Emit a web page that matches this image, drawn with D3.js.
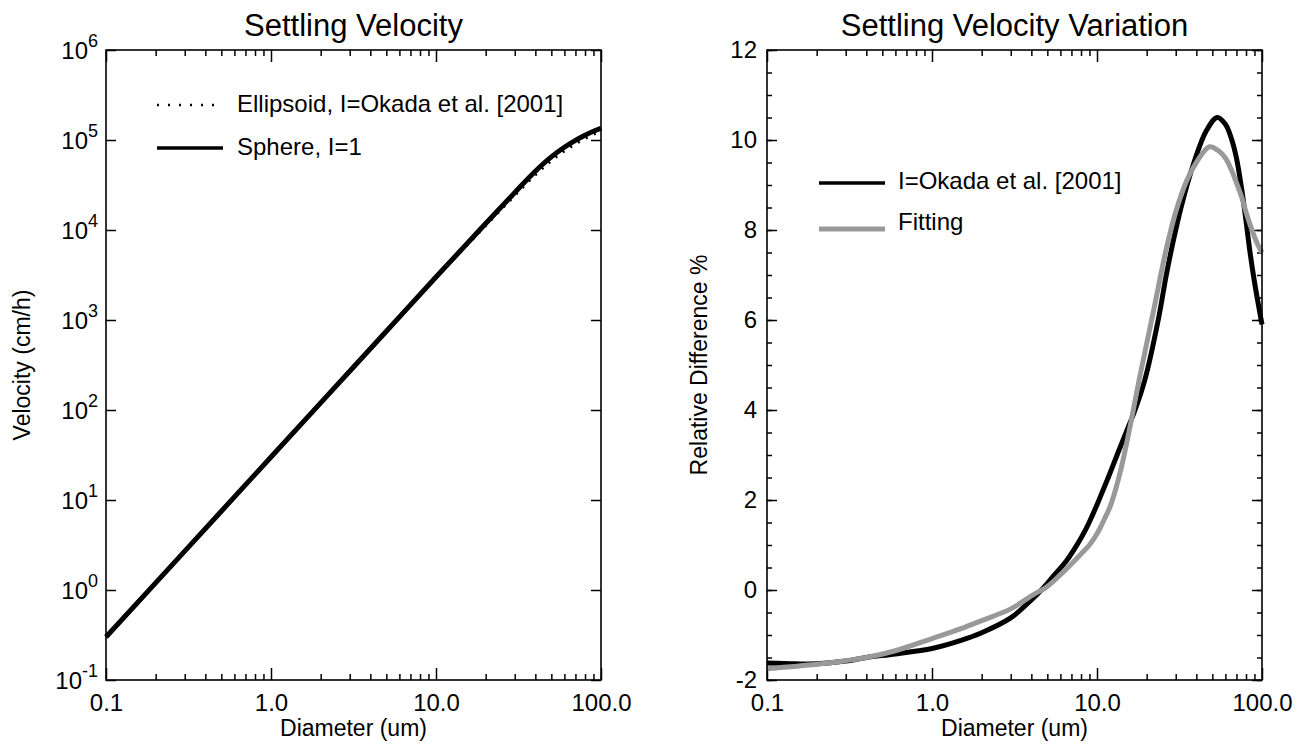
<!DOCTYPE html>
<html>
<head>
<meta charset="utf-8">
<script src="https://cdn.jsdelivr.net/npm/d3@7"></script>
<style>
  html, body { margin: 0; padding: 0; background: #fff; }
  svg text { font-family: "Liberation Sans", Arial, Helvetica, sans-serif; fill: #000; }
</style>
</head>
<body>
<svg id="chart" width="1307" height="744"></svg>
<script>
// left panel: settling velocity (cm/h) vs diameter (um)
var velDiam = [0.1, 0.2, 0.5, 1, 2, 5, 10, 20, 30, 40, 50, 60, 70, 80, 90, 100];
var sphereVel = [0.3, 1.2, 7.5, 30, 120, 750, 3000, 11800, 26000, 45000, 65000, 83000, 99000, 113000, 125000, 135000];
var ellipsoidVel = [0.305, 1.22, 7.6, 30.4, 121, 748, 2950, 11200, 24200, 41000, 59000, 75500, 90500, 104000, 116000, 127000];

// right panel: relative difference %
var okadaDiam = [0.1, 0.15, 0.2, 0.3, 0.4, 0.6, 1, 1.5, 2, 3, 4, 4.6, 5.5, 6.5, 7.5, 8.5, 9.3, 10.2, 11.7, 13.4, 15.2, 17, 19.5, 23.5, 26.3, 28.5, 32.3, 38.7, 45.9, 53.5, 60, 65, 70, 75, 80, 85, 90, 95, 100];
var okadaDiff = [-1.62, -1.64, -1.64, -1.58, -1.5, -1.42, -1.3, -1.12, -0.95, -0.62, -0.22, 0, 0.33, 0.64, 0.98, 1.33, 1.63, 1.97, 2.5, 3.05, 3.55, 4.0, 4.67, 6, 7, 7.63, 8.5, 9.5, 10.2, 10.5, 10.35, 10.05, 9.6, 8.95, 8.2, 7.45, 6.85, 6.35, 5.9];
var fitDiam = [0.1, 0.2, 0.3, 0.4, 0.6, 1, 1.5, 2, 3, 4, 5, 6, 7, 8, 9, 10, 11, 12, 13, 14, 15, 16, 18, 22, 26, 30, 35, 40, 48, 55, 60, 65, 70, 75, 80, 85, 90, 95, 100];
var fitDiff = [-1.75, -1.65, -1.57, -1.5, -1.35, -1.08, -0.86, -0.68, -0.42, -0.13, 0.08, 0.34, 0.58, 0.8, 1.0, 1.25, 1.55, 1.85, 2.25, 2.7, 3.2, 3.7, 4.67, 6.2, 7.5, 8.4, 9.1, 9.5, 9.85, 9.75, 9.6, 9.35, 9.05, 8.75, 8.4, 8.1, 7.85, 7.65, 7.5];

var xMajor = [0.1, 1, 10, 100];
var xMajorLabels = ['0.1', '1.0', '10.0', '100.0'];
var xMinor = [0.2, 0.3, 0.4, 0.5, 0.6, 0.7, 0.8, 0.9, 2, 3, 4, 5, 6, 7, 8, 9, 20, 30, 40, 50, 60, 70, 80, 90];
var velExponents = [-1, 0, 1, 2, 3, 4, 5, 6];
var diffMajor = [-2, 0, 2, 4, 6, 8, 10, 12];
var diffMinor = d3.range(-2, 12.01, 0.5);

(function () {
  'use strict';

  var svg = d3.select('#chart');
  var TOP = 50, H = 630, W = 495;
  var LEFT_A = 106, LEFT_B = 767;

  function xAxes(g, x) {
    // major + minor ticks, bottom and top, pointing inward
    g.append('g')
      .attr('transform', 'translate(0,' + H + ')')
      .call(d3.axisBottom(x).tickValues(xMajor).tickSize(-12).tickPadding(14)
        .tickFormat(function (d, i) { return xMajorLabels[i]; }));
    g.append('g')
      .attr('transform', 'translate(0,' + H + ')')
      .call(d3.axisBottom(x).tickValues(xMinor).tickSize(-6).tickFormat(''));
    g.append('g')
      .call(d3.axisTop(x).tickValues(xMajor).tickSize(-12).tickFormat(''));
    g.append('g')
      .call(d3.axisTop(x).tickValues(xMinor).tickSize(-6).tickFormat(''));
  }

  function tidy(g) {
    g.selectAll('.domain').remove();
    g.selectAll('.tick line').attr('stroke', '#000').attr('stroke-width', 1.5);
    g.selectAll('.tick text').attr('font-size', 24).attr('font-family', null);
  }

  function frame(g) {
    g.append('rect')
      .attr('width', W).attr('height', H)
      .attr('fill', 'none').attr('stroke', '#000').attr('stroke-width', 1.6);
  }

  function texts(g, title, ytitle, ytx) {
    g.append('text')
      .attr('x', W / 2).attr('y', -14)
      .attr('text-anchor', 'middle').attr('font-size', 31)
      .text(title);
    g.append('text')
      .attr('x', W / 2).attr('y', H + 56)
      .attr('text-anchor', 'middle').attr('font-size', 23)
      .text('Diameter (um)');
    g.append('text')
      .attr('transform', 'translate(' + ytx + ',' + (H / 2) + ') rotate(-90)')
      .attr('text-anchor', 'middle').attr('font-size', 23)
      .text(ytitle);
  }

  // ---------- left panel ----------
  var gA = svg.append('g').attr('transform', 'translate(' + LEFT_A + ',' + TOP + ')');
  var xA = d3.scaleLog().domain([0.1, 100]).range([0, W]);
  var yA = d3.scaleLog().domain([0.1, 1e6]).range([H, 0]);
  var decades = velExponents.map(function (e) { return Math.pow(10, e); });

  xAxes(gA, xA);
  gA.append('g').call(d3.axisLeft(yA).tickValues(decades).tickSize(-10).tickFormat(''));
  gA.append('g').attr('transform', 'translate(' + W + ',0)')
    .call(d3.axisRight(yA).tickValues(decades).tickSize(-10).tickFormat(''));
  tidy(gA);

  var ylab = gA.append('g').selectAll('text').data(velExponents).enter().append('text')
    .attr('x', -8)
    .attr('y', function (e) { return yA(Math.pow(10, e)) + 9; })
    .attr('text-anchor', 'end')
    .attr('font-size', 24);
  ylab.append('tspan').text('10');
  ylab.append('tspan').attr('dy', -12).attr('font-size', 18).text(function (e) { return String(e); });

  var lineA = d3.line()
    .x(function (d) { return xA(d[0]); })
    .y(function (d) { return yA(d[1]); })
    .curve(d3.curveMonotoneX);

  gA.append('path')
    .datum(velDiam.map(function (d, i) { return [d, ellipsoidVel[i]]; }))
    .attr('d', lineA).attr('fill', 'none').attr('stroke', '#000')
    .attr('stroke-width', 3).attr('stroke-dasharray', '2,7');
  gA.append('path')
    .datum(velDiam.map(function (d, i) { return [d, sphereVel[i]]; }))
    .attr('d', lineA).attr('fill', 'none').attr('stroke', '#000')
    .attr('stroke-width', 5);

  frame(gA);
  texts(gA, 'Settling Velocity', 'Velocity (cm/h)', -76);

  // legend left
  var legA = gA.append('g');
  legA.append('line').attr('x1', 51).attr('x2', 117).attr('y1', 55).attr('y2', 55)
    .attr('stroke', '#000').attr('stroke-width', 2.5).attr('stroke-dasharray', '2,9');
  legA.append('text').attr('x', 131).attr('y', 62).attr('font-size', 24)
    .text('Ellipsoid, I=Okada et al. [2001]');
  legA.append('line').attr('x1', 51).attr('x2', 117).attr('y1', 98).attr('y2', 98)
    .attr('stroke', '#000').attr('stroke-width', 3.5);
  legA.append('text').attr('x', 131).attr('y', 105).attr('font-size', 24)
    .text('Sphere, I=1');

  // ---------- right panel ----------
  var gB = svg.append('g').attr('transform', 'translate(' + LEFT_B + ',' + TOP + ')');
  var xB = d3.scaleLog().domain([0.1, 100]).range([0, W]);
  var yB = d3.scaleLinear().domain([-2, 12]).range([H, 0]);

  xAxes(gB, xB);
  gB.append('g')
    .call(d3.axisLeft(yB).tickValues(diffMajor).tickSize(-10).tickPadding(10)
      .tickFormat(function (d) { return String(d); }));
  gB.append('g')
    .call(d3.axisLeft(yB).tickValues(diffMinor).tickSize(-5).tickFormat(''));
  gB.append('g').attr('transform', 'translate(' + W + ',0)')
    .call(d3.axisRight(yB).tickValues(diffMajor).tickSize(-10).tickFormat(''));
  gB.append('g').attr('transform', 'translate(' + W + ',0)')
    .call(d3.axisRight(yB).tickValues(diffMinor).tickSize(-5).tickFormat(''));
  tidy(gB);

  var lineB = d3.line()
    .x(function (d) { return xB(d[0]); })
    .y(function (d) { return yB(d[1]); })
    .curve(d3.curveCatmullRom.alpha(0.5));

  gB.append('path')
    .datum(okadaDiam.map(function (d, i) { return [d, okadaDiff[i]]; }))
    .attr('d', lineB).attr('fill', 'none').attr('stroke', '#000').attr('stroke-width', 5);
  gB.append('path')
    .datum(fitDiam.map(function (d, i) { return [d, fitDiff[i]]; }))
    .attr('d', lineB).attr('fill', 'none').attr('stroke', '#999').attr('stroke-width', 5);

  frame(gB);
  texts(gB, 'Settling Velocity Variation', 'Relative Difference %', -60);

  var legB = gB.append('g');
  legB.append('line').attr('x1', 52).attr('x2', 118).attr('y1', 133).attr('y2', 133)
    .attr('stroke', '#000').attr('stroke-width', 3.5);
  legB.append('text').attr('x', 131).attr('y', 139).attr('font-size', 24)
    .text('I=Okada et al. [2001]');
  legB.append('line').attr('x1', 52).attr('x2', 118).attr('y1', 179).attr('y2', 179)
    .attr('stroke', '#999').attr('stroke-width', 5);
  legB.append('text').attr('x', 131).attr('y', 180).attr('font-size', 24)
    .text('Fitting');
})();
</script>
</body>
</html>
